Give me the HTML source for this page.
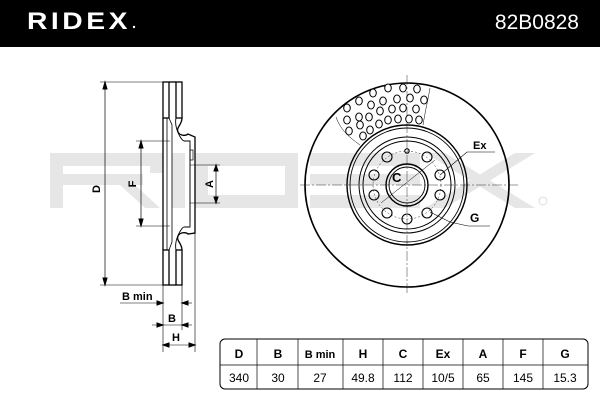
<!DOCTYPE html>
<html><head><meta charset="utf-8"><style>
html,body{margin:0;padding:0;background:#fff;}
svg{display:block;}
text{font-family:"Liberation Sans",sans-serif;}
.b{font-weight:bold;}
.n{font-weight:normal;}
</style></head><body>
<svg width="600" height="400" viewBox="0 0 600 400" xmlns="http://www.w3.org/2000/svg">
<rect x="0" y="0" width="600" height="47" fill="#000"/>
<text class="b" x="27" y="29" fill="#fff" font-size="24" letter-spacing="3" textLength="104" lengthAdjust="spacingAndGlyphs">RIDEX</text>
<circle cx="134" cy="27" r="1.2" fill="#fff"/>
<text class="n" x="579" y="29" fill="#fff" font-size="21" text-anchor="end">82B0828</text>

<!-- watermark -->
<g fill="#e6e6e6">
<rect x="50" y="153" width="100" height="13"/>
<rect x="50" y="153" width="13" height="55"/>
<rect x="63" y="174" width="80" height="11"/>
<rect x="150" y="153" width="13" height="20"/>
<polygon points="120,185 135,185 160,208 145,208"/>
<rect x="172" y="153" width="13" height="55"/>
<rect x="195" y="153" width="13" height="55"/>
<rect x="195" y="153" width="100" height="13"/>
<rect x="195" y="195" width="100" height="13"/>
<rect x="285" y="153" width="13" height="55"/>
<rect x="310" y="153" width="110" height="13"/>
<rect x="310" y="174" width="110" height="11"/>
<rect x="310" y="195" width="110" height="13"/>
<polygon points="425,153 445,153 535,208 515,208"/>
<polygon points="515,153 535,153 445,208 425,208"/>
</g>
<circle cx="543" cy="201" r="4" fill="none" stroke="#ddd" stroke-width="1"/>

<!-- side view -->
<g stroke="#000" fill="none" stroke-width="1">
<line x1="100" y1="82" x2="163" y2="82" stroke-width="0.6"/>
<line x1="100" y1="285" x2="163" y2="285" stroke-width="0.6"/>
<line x1="105" y1="84" x2="105" y2="283" stroke-width="0.7"/>
<polygon points="105,82 103,89 107,89" fill="#000"/>
<polygon points="105,285 103,278 107,278" fill="#000"/>
<line x1="136" y1="141" x2="170" y2="141" stroke-width="0.6"/>
<line x1="136" y1="226" x2="170" y2="226" stroke-width="0.6"/>
<line x1="141" y1="143" x2="141" y2="224" stroke-width="0.7"/>
<polygon points="141,141 139,148 143,148" fill="#000"/>
<polygon points="141,226 139,219 143,219" fill="#000"/>
<line x1="190" y1="165" x2="220" y2="165" stroke-width="0.6"/>
<line x1="190" y1="203" x2="220" y2="203" stroke-width="0.6"/>
<line x1="216" y1="167" x2="216" y2="201" stroke-width="0.7"/>
<polygon points="216,165 214,171 218,171" fill="#000"/>
<polygon points="216,203 214,197 218,197" fill="#000"/>
<rect x="163" y="82" width="6" height="36" stroke-width="1.3"/>
<rect x="176" y="82" width="6" height="36" stroke-width="1.3"/>
<rect x="163" y="250" width="6" height="35" stroke-width="1.3"/>
<rect x="176" y="250" width="6" height="35" stroke-width="1.3"/>
<line x1="169" y1="82" x2="176" y2="82" stroke-width="1.3"/>
<line x1="169" y1="285" x2="176" y2="285" stroke-width="1.3"/>
<path d="M163,118 L163,250" stroke-width="1.3"/>
<path d="M167,118 L167,250" stroke-width="0.8"/>
<path d="M169,118 L172,125 L172,242 L169,250" stroke-width="0.8"/>
<path d="M182,118 C182,125 176,127 178,132 C180,136 186,136 188,134 L195,137 L195,233 L188,234 C186,232 180,232 178,236 C176,241 182,243 182,250" stroke-width="1.3"/>
<path d="M176,118 C174,128 181,140 184,141 L190,141 L190,227 L184,227 C181,228 174,240 176,250" stroke-width="0.9"/>
<line x1="190" y1="145" x2="190" y2="222" stroke-width="0.8"/>
<rect x="190" y="150" width="3" height="10" stroke-width="0.7"/>
<line x1="163" y1="285" x2="163" y2="352" stroke-width="0.6"/>
<line x1="182" y1="285" x2="182" y2="330" stroke-width="0.6"/>
<line x1="195" y1="233" x2="195" y2="352" stroke-width="0.6"/>
<line x1="120" y1="303" x2="160" y2="303" stroke-width="0.6"/>
<polygon points="163,303 157,301 157,305" fill="#000"/>
<line x1="184" y1="303" x2="192" y2="303" stroke-width="0.6"/>
<polygon points="182,303 188,301 188,305" fill="#000"/>
<line x1="152" y1="325" x2="192" y2="325" stroke-width="0.6"/>
<polygon points="163,325 157,323 157,327" fill="#000"/>
<polygon points="182,325 188,323 188,327" fill="#000"/>
<line x1="163" y1="345" x2="195" y2="345" stroke-width="0.6"/>
<polygon points="163,345 169,343 169,347" fill="#000"/>
<polygon points="195,345 189,343 189,347" fill="#000"/>
</g>
<g class="b" font-size="11" text-anchor="middle">
<text x="100" y="189" transform="rotate(-90 100 189)">D</text>
<text x="136" y="184" transform="rotate(-90 136 184)">F</text>
<text x="213" y="184" transform="rotate(-90 213 184)">A</text>
</g>
<text class="b" x="122" y="300" font-size="11">B min</text>
<text class="b" x="168" y="322" font-size="11">B</text>
<text class="b" x="172" y="341" font-size="11">H</text>

<!-- front view -->
<g stroke="#000" fill="none">
<line x1="407" y1="75" x2="407" y2="295" stroke-width="0.4" stroke-dasharray="10,2,2,2"/>
<line x1="300" y1="185" x2="520" y2="185" stroke-width="0.4" stroke-dasharray="10,2,2,2"/>
<circle cx="407" cy="185" r="102" stroke-width="1.6"/>
<circle cx="407" cy="185" r="60" stroke-width="1.4"/>
<circle cx="407" cy="185" r="57" stroke-width="0.9"/>
<circle cx="407" cy="185" r="48" stroke-width="1"/>
<circle cx="407" cy="185" r="44" stroke-width="1"/>
<circle cx="407" cy="185" r="34" stroke-width="0.4" stroke-dasharray="2,2"/>
<circle cx="407" cy="185" r="21" stroke-width="1.4"/>
<circle cx="407" cy="185" r="18" stroke-width="0.9"/>
<g stroke-width="1.1">
<circle cx="387" cy="157" r="5"/><circle cx="427" cy="157" r="5"/>
<circle cx="374" cy="175" r="5"/><circle cx="440" cy="175" r="5"/>
<circle cx="374" cy="195" r="5"/><circle cx="440" cy="195" r="5"/>
<circle cx="387" cy="213" r="5"/><circle cx="427" cy="213" r="5"/>
<circle cx="407" cy="219" r="5"/>
<circle cx="407" cy="151" r="2.2"/>
</g>
<path d="M336,117 C340,128 346,135 360,145" stroke-width="0.5"/>
<path d="M430,88 C428,100 425,112 423,125" stroke-width="0.5"/>
<line x1="381" y1="203" x2="435" y2="160" stroke-width="0.5"/>
<path d="M440,175 L467,152 L495,152" stroke-width="0.6"/>
<path d="M430,212 L450,222 L468,226 L490,226" stroke-width="0.6"/>
</g>
<g fill="#fff" stroke="#000" stroke-width="1">
<ellipse cx="388" cy="88" rx="3.3" ry="4"/><ellipse cx="403" cy="88" rx="3.3" ry="4"/><ellipse cx="417" cy="89" rx="3.3" ry="4"/><ellipse cx="373" cy="93" rx="3.3" ry="4"/>
<ellipse cx="359" cy="101" rx="3.3" ry="4"/><ellipse cx="383" cy="101" rx="3.3" ry="4"/><ellipse cx="397" cy="99" rx="3.3" ry="4"/><ellipse cx="410" cy="98" rx="3.3" ry="4"/><ellipse cx="424" cy="100" rx="3.3" ry="4"/>
<ellipse cx="347" cy="108" rx="3.3" ry="4"/><ellipse cx="371" cy="105" rx="3.3" ry="4"/><ellipse cx="392" cy="109" rx="3.3" ry="4"/><ellipse cx="403" cy="108" rx="3.3" ry="4"/><ellipse cx="416" cy="109" rx="3.3" ry="4"/>
<ellipse cx="347" cy="120" rx="3.3" ry="4"/><ellipse cx="359" cy="117" rx="3.3" ry="4"/><ellipse cx="369" cy="117" rx="3.3" ry="4"/><ellipse cx="380" cy="111" rx="3.3" ry="4"/><ellipse cx="388" cy="120" rx="3.3" ry="4"/><ellipse cx="398" cy="119" rx="3.3" ry="4"/><ellipse cx="409" cy="119" rx="3.3" ry="4"/><ellipse cx="419" cy="120" rx="3.3" ry="4"/>
<ellipse cx="349" cy="131" rx="3.3" ry="4"/><ellipse cx="360" cy="125" rx="3.3" ry="4"/><ellipse cx="370" cy="130" rx="3.3" ry="4"/><ellipse cx="379" cy="124" rx="3.3" ry="4"/><ellipse cx="363" cy="136" rx="3.3" ry="4"/>
</g>
<text class="b" x="392" y="182" font-size="13">C</text>
<text class="b" x="473" y="149" font-size="11">Ex</text>
<text class="b" x="470" y="222" font-size="12">G</text>

<!-- table -->
<g stroke="#000" fill="none">
<rect x="220" y="339" width="368" height="50" rx="5" stroke-width="1"/>
<line x1="220" y1="365" x2="588" y2="365" stroke-width="0.7"/>
<g stroke-width="0.7">
<line x1="257" y1="339" x2="257" y2="389"/><line x1="298" y1="339" x2="298" y2="389"/>
<line x1="343" y1="339" x2="343" y2="389"/><line x1="383" y1="339" x2="383" y2="389"/>
<line x1="423" y1="339" x2="423" y2="389"/><line x1="463" y1="339" x2="463" y2="389"/>
<line x1="503" y1="339" x2="503" y2="389"/><line x1="543" y1="339" x2="543" y2="389"/>
</g>
</g>
<g class="b" font-size="12" text-anchor="middle">
<text x="239" y="358">D</text><text x="278" y="358">B</text><text x="320" y="358" font-size="11">B min</text>
<text x="363" y="358">H</text><text x="403" y="358">C</text><text x="443" y="358">Ex</text>
<text x="483" y="358">A</text><text x="523" y="358">F</text><text x="565" y="358">G</text>
</g>
<g class="n" font-size="12" text-anchor="middle">
<text x="239" y="382">340</text><text x="278" y="382">30</text><text x="320" y="382">27</text>
<text x="363" y="382">49.8</text><text x="403" y="382">112</text><text x="443" y="382">10/5</text>
<text x="483" y="382">65</text><text x="523" y="382">145</text><text x="565" y="382">15.3</text>
</g>
</svg>
</body></html>
